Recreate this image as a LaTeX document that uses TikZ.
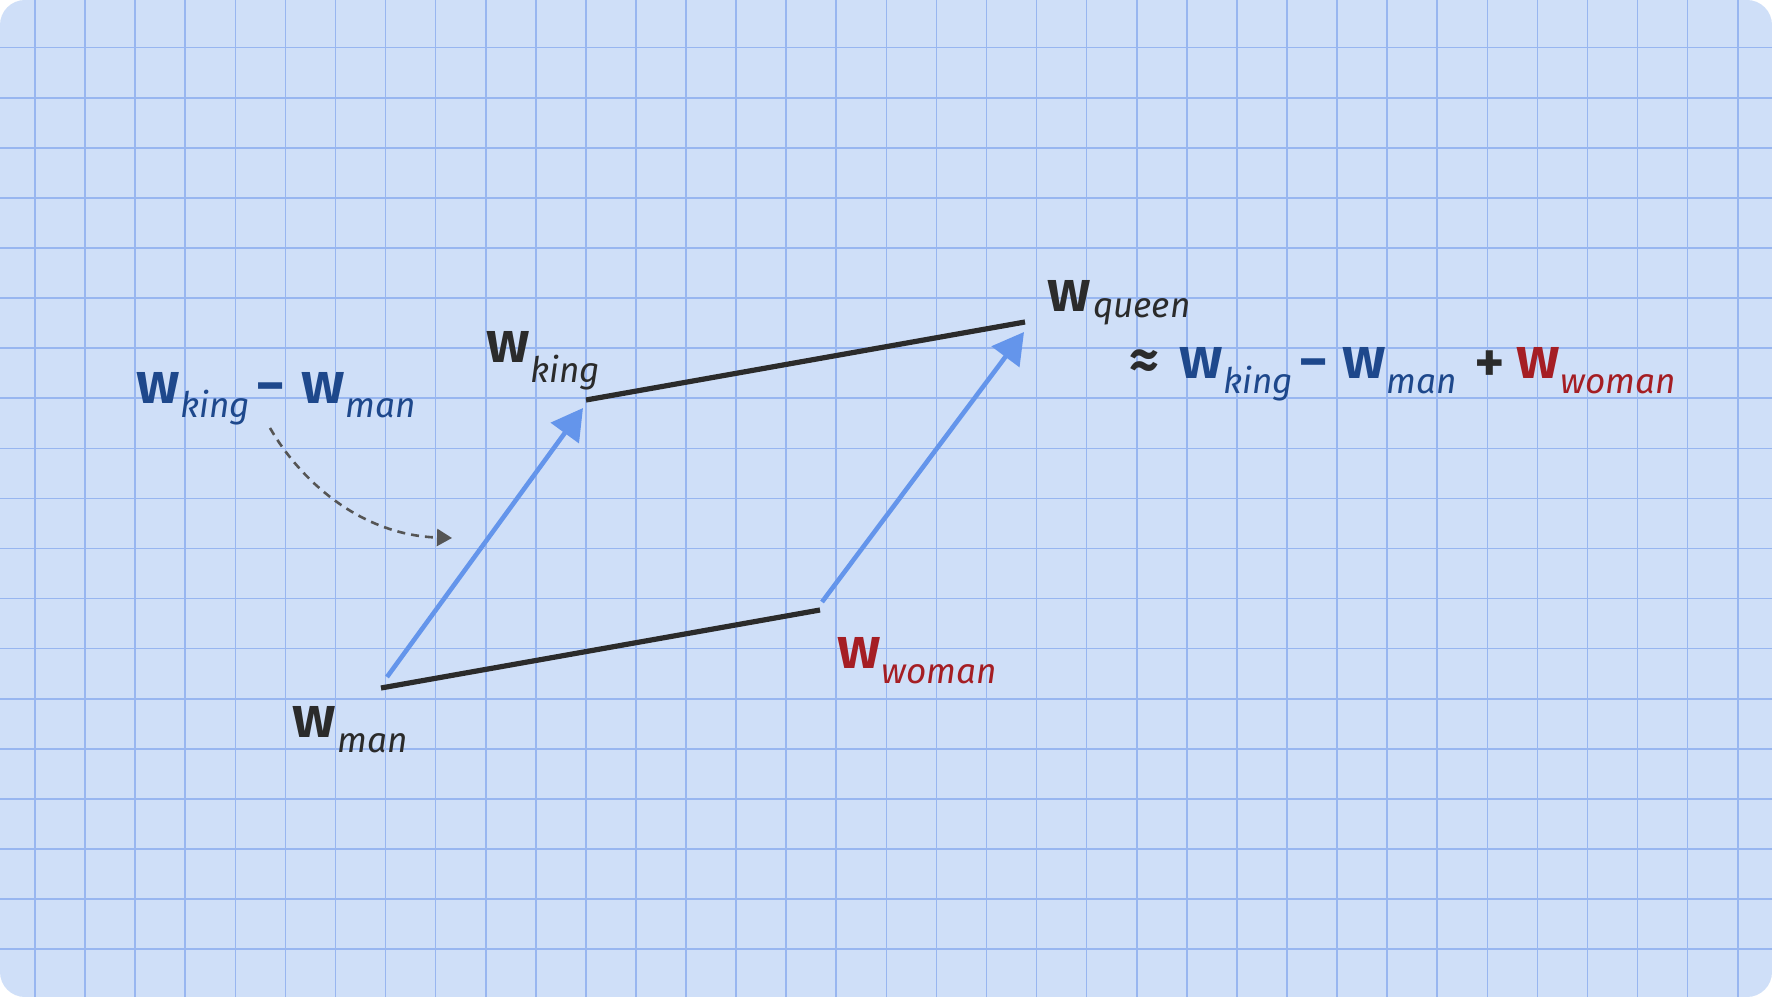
\documentclass[tikz,border=0pt]{standalone}
\usepackage{fontspec}
\setmainfont{Fira Sans}
\newfontfamily\wfont{Fira Sans SemiBold}
\usetikzlibrary{arrows.meta}
\newdimen\pxu \pxu=0.28453pt
\definecolor{bgc}{RGB}{207,223,248}
\definecolor{gridc}{RGB}{152,182,240}
\definecolor{inkc}{RGB}{43,43,43}
\definecolor{arrc}{RGB}{100,149,235}
\definecolor{dblue}{RGB}{30,72,140}
\definecolor{dred}{RGB}{165,30,36}
\definecolor{dashc}{RGB}{85,85,85}
\newcommand\wvec[3]{{\fontsize{16.65}{20}\selectfont\wfont w}\kern#3\pxu\raisebox{-#1\pxu}{\fontsize{10}{12}\selectfont\itshape #2}}
\tikzset{
  gridline/.style={draw=gridc, line width=1.6*0.28453pt},
  edgeline/.style={draw=inkc, line width=5.2*0.28453pt},
  vecarrow/.style={draw=arrc, line width=4.6*0.28453pt, -{Triangle[length=31*0.28453pt,width=34*0.28453pt]}, fill=arrc},
  hintarrow/.style={draw=dashc, line width=2.6*0.28453pt, dash pattern=on 8*0.28453pt off 6*0.28453pt, -{Triangle[length=15*0.28453pt,width=17*0.28453pt]}},
  lab/.style={anchor=base west, inner sep=0pt, outer sep=0pt},
  opsym/.style={anchor=center, inner sep=0pt, font=\fontsize{16.65}{20}\selectfont\wfont}
}
\begin{document}
\begin{tikzpicture}[x=0.01cm,y=-0.01cm]
\useasboundingbox (0,0) rectangle (1772,997);
\fill[white] (0,0) rectangle (1772,997);
\begin{scope}
  \clip[rounded corners=0.25cm] (0,0) rectangle (1772,997);
  \fill[bgc] (0,0) rectangle (1772,997);
  \foreach \i in {0,...,34} \draw[gridline] ({35+50.08*\i},0) -- ++(0,997);
  \foreach \j in {0,...,18} \draw[gridline] (0,{47.7+50.08*\j}) -- ++(1772,0);
\end{scope}

% points
\coordinate (manP) at (381,688);
\coordinate (womanP) at (820,610);
\coordinate (kingP) at (586,400);
\coordinate (queenP) at (1025,322);
\coordinate (manA) at (387,677);
\coordinate (kingA) at (583,408);
\coordinate (womanA) at (822,602);
\coordinate (queenA) at (1024,332);
\coordinate (hintS) at (270,428);
\coordinate (hintE) at (452,538);

% parallelogram edges
\draw[edgeline] (manP) -- (womanP);
\draw[edgeline] (kingP) -- (queenP);
\draw[vecarrow] (manA) -- (kingA);
\draw[vecarrow] (womanA) -- (queenA);

% hint arrow
\draw[hintarrow] (hintS) .. controls (300,480) and (360,535) .. (hintE);

% labels
\node[lab, text=dblue] (lk) at (136,403) {\wvec{14}{king}{1}};
\node[opsym, text=dblue] (lminus) at (271,394) {−};
\node[lab, text=dblue] (lm) at (301,403) {\wvec{14}{man}{1}};

\node[lab, text=inkc] (tking) at (486,363) {\wvec{19}{king}{1}};
\node[lab, text=inkc] (tqueen) at (1047,311) {\wvec{6}{queen}{3}};
\node[lab, text=inkc] (bman) at (292,737) {\wvec{15}{man}{2}};
\node[lab, text=dred] (bwoman) at (837,668) {\wvec{15}{woman}{1}};

\node[opsym, text=inkc] (approx) at (1144,365) {≈};
\node[lab, text=dblue] (rk) at (1179,378) {\wvec{15}{king}{1}};
\node[opsym, text=dblue] (rminus) at (1314,370) {−};
\node[lab, text=dblue] (rm) at (1342,378) {\wvec{15}{man}{1}};
\node[opsym, text=inkc] (rplus) at (1490,367) {+};
\node[lab, text=dred] (rw) at (1516,378) {\wvec{15}{woman}{1}};
\end{tikzpicture}
\end{document}
